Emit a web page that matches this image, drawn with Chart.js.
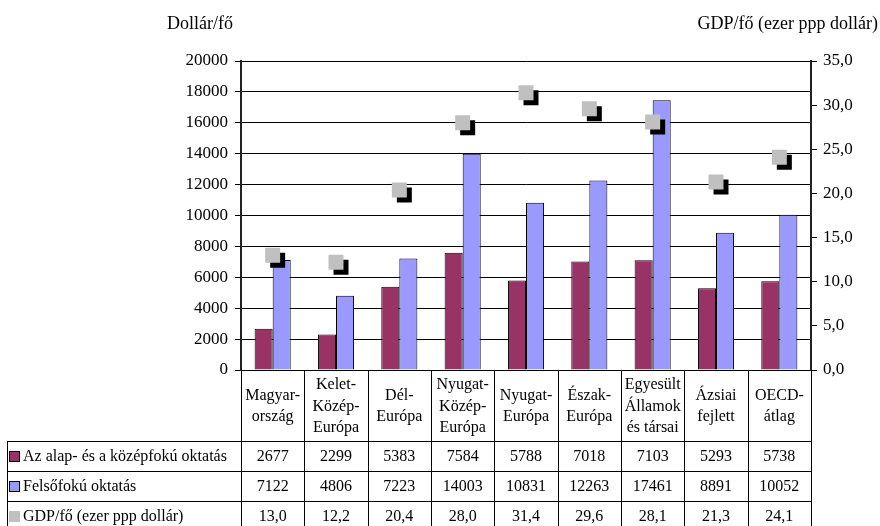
<!DOCTYPE html>
<html>
<head>
<meta charset="utf-8">
<title>Oktatási kiadások és GDP</title>
<script src="https://cdn.jsdelivr.net/npm/chart.js@4.4.1/dist/chart.umd.min.js"></script>
<style>
  html, body { margin: 0; padding: 0; background: #fff; }
  #wrap { width: 880px; height: 526px; position: relative; }
</style>
</head>
<body>
<div id="wrap"><canvas id="chart"></canvas></div>
<script>
// Régiók (többsoros fejléc a táblázatban)
const categories = [
  ['Magyar-', 'ország'],
  ['Kelet-', 'Közép-', 'Európa'],
  ['Dél-', 'Európa'],
  ['Nyugat-', 'Közép-', 'Európa'],
  ['Nyugat-', 'Európa'],
  ['Észak-', 'Európa'],
  ['Egyesült', 'Államok', 'és társai'],
  ['Ázsiai', 'fejlett'],
  ['OECD-', 'átlag']
];

// Egy főre jutó kiadás (dollár)
const basicSecondary = [2677, 2299, 5383, 7584, 5788, 7018, 7103, 5293, 5738];
const tertiary = [7122, 4806, 7223, 14003, 10831, 12263, 17461, 8891, 10052];
// GDP/fő (ezer ppp dollár)
const gdpPerCapita = [13.0, 12.2, 20.4, 28.0, 31.4, 29.6, 28.1, 21.3, 24.1];

const seriesNames = ['Az alap- és a középfokú oktatás', 'Felsőfokú oktatás', 'GDP/fő (ezer ppp dollár)'];
const leftTicks = [0, 2000, 4000, 6000, 8000, 10000, 12000, 14000, 16000, 18000, 20000];
const rightTicks = [0, 5, 10, 15, 20, 25, 30, 35];

const COLORS = { basic: '#993366', tertiary: '#9999FF', gdp: '#C0C0C0' };
const FONT = "'Liberation Serif', serif";

Chart.defaults.font.family = FONT;
Chart.defaults.font.size = 16;
Chart.defaults.color = '#000';

const fmtComma = v => v.toFixed(1).replace('.', ',');

// Fekete árnyék a GDP-jelölők alatt
const markerShadow = {
  id: 'markerShadow',
  beforeDatasetDraw(chart, args) {
    if (chart.data.datasets[args.index].type !== 'line') return;
    const ctx = chart.ctx;
    ctx.save();
    ctx.shadowColor = '#000';
    ctx.shadowOffsetX = 5;
    ctx.shadowOffsetY = 5;
    ctx.shadowBlur = 0;
  },
  afterDatasetDraw(chart, args) {
    if (chart.data.datasets[args.index].type !== 'line') return;
    chart.ctx.restore();
  }
};

// Tengelycímek a diagram fölött
const axisTitles = {
  id: 'axisTitles',
  afterDraw(chart) {
    const ctx = chart.ctx;
    ctx.save();
    ctx.font = '18px ' + FONT;
    ctx.fillStyle = '#000';
    ctx.textBaseline = 'middle';
    ctx.textAlign = 'left';
    ctx.fillText('Dollár/fő', 167, 24);
    ctx.textAlign = 'right';
    ctx.fillText('GDP/fő (ezer ppp dollár)', 878, 24);
    ctx.restore();
  }
};

// Adattáblázat a diagram alatt
const dataTable = {
  id: 'dataTable',
  afterDraw(chart) {
    const { ctx, chartArea: area, scales } = chart;
    const x = scales.x;
    const n = categories.length;
    const colW = (area.right - area.left) / n;
    const top = area.bottom;
    const headerBottom = top + 71;
    const rowH = 30;
    const tableLeft = 7;
    const bottom = headerBottom + rowH * 3;

    ctx.save();
    ctx.strokeStyle = '#000';
    ctx.lineWidth = 1;
    ctx.font = '16px ' + FONT;
    ctx.fillStyle = '#000';

    // vízszintes vonalak
    ctx.beginPath();
    for (let r = 0; r < 3; r++) {
      const yy = Math.round(headerBottom + r * rowH) + 0.5;
      ctx.moveTo(tableLeft, yy);
      ctx.lineTo(area.right, yy);
    }
    // függőleges vonalak
    for (let c = 0; c <= n; c++) {
      const xx = Math.round(area.left + c * colW) + 0.5;
      ctx.moveTo(xx, top);
      ctx.lineTo(xx, bottom);
    }
    ctx.moveTo(tableLeft + 0.5, headerBottom);
    ctx.lineTo(tableLeft + 0.5, bottom);
    ctx.stroke();

    // fejléc: régiónevek
    ctx.textAlign = 'center';
    ctx.textBaseline = 'middle';
    const lineH = 21.5;
    const headMid = (top + headerBottom) / 2 + 1;
    categories.forEach((lines, i) => {
      const cx = x.getPixelForValue(i);
      const start = headMid - (lines.length - 1) * lineH / 2;
      lines.forEach((t, k) => ctx.fillText(t, cx, start + k * lineH));
    });

    // értéksorok
    const rows = [
      basicSecondary.map(v => String(v)),
      tertiary.map(v => String(v)),
      gdpPerCapita.map(fmtComma)
    ];
    rows.forEach((vals, r) => {
      const cy = headerBottom + r * rowH + rowH / 2 + 1;
      vals.forEach((t, i) => ctx.fillText(t, x.getPixelForValue(i), cy));
    });

    // jelmagyarázat
    const swatch = [COLORS.basic, COLORS.tertiary, COLORS.gdp];
    ctx.textAlign = 'left';
    seriesNames.forEach((name, r) => {
      const cy = headerBottom + r * rowH + rowH / 2;
      ctx.fillStyle = swatch[r];
      ctx.fillRect(9, Math.round(cy - 5), 11, 11);
      if (r < 2) {
        ctx.strokeStyle = '#000';
        ctx.strokeRect(9.5, Math.round(cy - 5) + 0.5, 10, 10);
      }
      ctx.fillStyle = '#000';
      ctx.fillText(name, 23, cy + 1);
    });
    ctx.restore();
  }
};

new Chart(document.getElementById('chart'), {
  data: {
    labels: categories,
    datasets: [
      {
        type: 'line',
        label: seriesNames[2],
        data: gdpPerCapita,
        yAxisID: 'y2',
        showLine: false,
        pointStyle: 'rect',
        pointRadius: 10.6,
        pointHoverRadius: 10.6,
        pointBackgroundColor: COLORS.gdp,
        pointBorderWidth: 0,
        order: 0
      },
      {
        type: 'bar',
        label: seriesNames[0],
        data: basicSecondary,
        yAxisID: 'y',
        backgroundColor: COLORS.basic,
        borderColor: '#000',
        borderWidth: 1,
        categoryPercentage: 0.57,
        barPercentage: 1,
        order: 1
      },
      {
        type: 'bar',
        label: seriesNames[1],
        data: tertiary,
        yAxisID: 'y',
        backgroundColor: COLORS.tertiary,
        borderColor: '#000',
        borderWidth: 1,
        categoryPercentage: 0.57,
        barPercentage: 1,
        order: 1
      }
    ]
  },
  options: {
    responsive: true,
    maintainAspectRatio: false,
    animation: false,
    events: [],
    layout: { padding: { top: 61, bottom: 156, left: 0, right: 0 } },
    plugins: {
      legend: { display: false },
      tooltip: { enabled: false },
      title: { display: false }
    },
    scales: {
      x: {
        type: 'category',
        display: false,
        offset: true
      },
      y: {
        position: 'left',
        min: 0,
        max: 20000,
        afterBuildTicks(scale) { scale.ticks = leftTicks.map(v => ({ value: v })); },
        afterFit(scale) { scale.width = 241; },
        ticks: {
          padding: 7,
          callback: v => String(v),
          font: { family: FONT, size: 17 }
        },
        grid: {
          color: '#000',
          lineWidth: 1,
          drawTicks: true,
          tickLength: 6,
          tickColor: '#000'
        },
        border: { display: true, color: '#222', width: 2 }
      },
      y2: {
        position: 'right',
        min: 0,
        max: 35,
        afterBuildTicks(scale) { scale.ticks = rightTicks.map(v => ({ value: v })); },
        afterFit(scale) { scale.width = 69; },
        ticks: {
          padding: 6,
          callback: v => fmtComma(v),
          font: { family: FONT, size: 17 }
        },
        grid: {
          drawOnChartArea: false,
          drawTicks: true,
          tickLength: 6,
          color: '#000',
          tickColor: '#000'
        },
        border: { display: true, color: '#222', width: 2 }
      }
    }
  },
  plugins: [markerShadow, axisTitles, dataTable]
});
</script>
</body>
</html>
